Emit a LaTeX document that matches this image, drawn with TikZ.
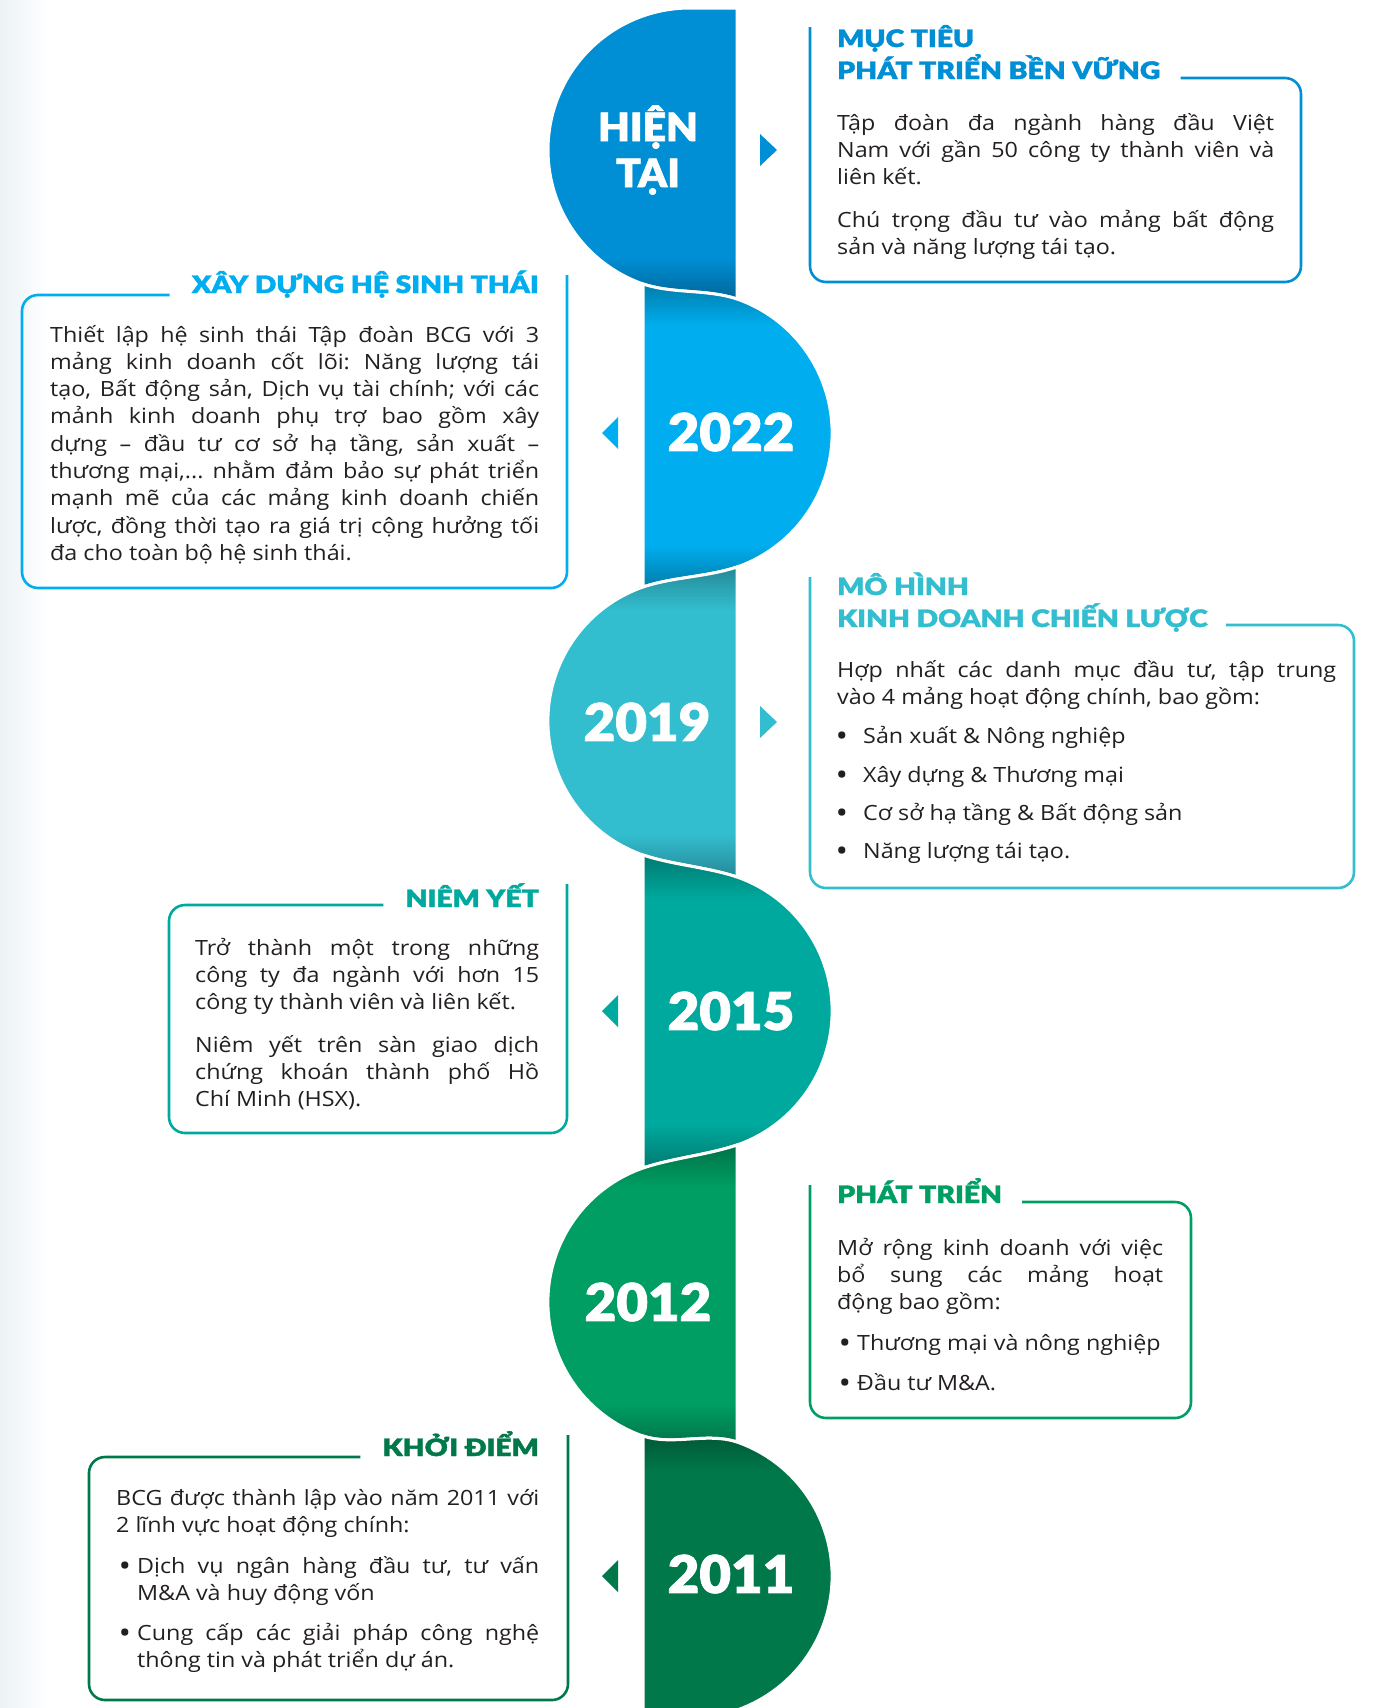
\documentclass[tikz,border=0pt]{standalone}
\usepackage{fontspec}
\setmainfont{Open Sans}[FakeStretch=1.11]
\newfontfamily\tlheadfont{Lato Black}[FakeStretch=1.18, FakeBold=1.6]
\newfontfamily\tlyearfont{Lato Black}[FakeStretch=1.05, FakeBold=1.6]

\definecolor{bcgnow}{HTML}{008ED4}
\definecolor{bcgsky}{HTML}{00AEEF}
\definecolor{bcgcyan}{HTML}{33BED0}
\definecolor{bcgteal}{HTML}{00A99D}
\definecolor{bcggreen}{HTML}{009E63}
\definecolor{bcgforest}{HTML}{00784A}
\definecolor{ink}{HTML}{231F20}
\definecolor{edge}{HTML}{EDF2F6}
\colorlet{tlmain}{bcgnow}
\colorlet{tldark}{bcgnow!72!black}

% fades at the joints of the ribbon
\pgfdeclareverticalshading[tlmain,tldark]{tlfade}{100bp}{color(0bp)=(tldark); color(25bp)=(tldark); color(32bp)=(tlmain); color(68bp)=(tlmain); color(75bp)=(tldark); color(100bp)=(tldark)}
\pgfdeclareverticalshading[tlmain,tldark]{tlfadelow}{100bp}{color(0bp)=(tldark); color(25bp)=(tldark); color(32bp)=(tlmain); color(100bp)=(tlmain)}
\pgfdeclareverticalshading[tlmain,tldark]{tlfadehigh}{100bp}{color(0bp)=(tlmain); color(68bp)=(tlmain); color(75bp)=(tldark); color(100bp)=(tldark)}

\newcommand{\tlbody}{\fontsize{21}{27.3}\selectfont\frenchspacing\tolerance=9999 \hyphenpenalty=10000 \exhyphenpenalty=10000 }
\newcommand{\tldot}[1]{\llap{\raisebox{-3.5pt}{\fontsize{30}{30}\selectfont\textbullet}\hspace{#1}}}

\tikzset{
 tone/.code={\colorlet{tlmain}{#1}\colorlet{tldark}{#1!72!black}},
 band/.style={shade, shading=tlfade, draw=white, line width=3pt},
 frame/.style={draw=#1, line width=2.6pt, rounded corners=16pt},
 headtext/.style={font=\tlheadfont\fontsize{24}{32}\selectfont, text=#1, inner sep=0pt, align=left},
 bodytext/.style={font=\tlbody, text=ink, inner sep=0pt, text width=#1pt, align=justify, anchor=base west},
 yearlabel/.style={font=\tlyearfont\fontsize{52}{46}\selectfont, text=white, inner sep=0pt, align=center}
}

\begin{document}
\begin{tikzpicture}[x=1pt, y=1pt]
\useasboundingbox (0,0) rectangle (1373,-1708);
\shade[left color=edge, right color=white] (0,0) rectangle (48,-1708);

% ribbon
\path[tone=bcgnow, band, shading=tlfadelow] (737,-8) -- (690,-8)
 arc[start angle=90, end angle=250.7, radius=142]
 .. controls (673,-294) and (707,-289) .. (737,-299) -- cycle;
\path[tone=bcgsky, band] (643,-284) .. controls (673,-294) and (707,-289) .. (737,-299)
 arc[start angle=70.7, end angle=-70.7, radius=142]
 .. controls (707,-577) and (673,-577) .. (643,-587) -- cycle;
\path[tone=bcgcyan, band] (737,-567) .. controls (707,-577) and (673,-577) .. (643,-587)
 arc[start angle=109.3, end angle=250.7, radius=142]
 .. controls (673,-865) and (707,-867) .. (737,-877) -- cycle;
\path[tone=bcgteal, band] (643,-855) .. controls (673,-865) and (707,-867) .. (737,-877)
 arc[start angle=70.7, end angle=-70.7, radius=142]
 .. controls (707,-1155) and (673,-1158) .. (643,-1168) -- cycle;
\path[tone=bcggreen, band] (737,-1145) .. controls (707,-1155) and (673,-1158) .. (643,-1168)
 arc[start angle=109.3, end angle=250.7, radius=142]
 .. controls (673,-1446) and (707,-1432) .. (737,-1442) -- cycle;
\path[tone=bcgforest, band, shading=tlfadehigh] (643,-1436) .. controls (673,-1446) and (707,-1432) .. (737,-1442)
 arc[start angle=70.7, end angle=-90, radius=142] -- (643,-1718) -- cycle;

\node[yearlabel, font=\tlyearfont\fontsize{39}{46}\selectfont] (now) at (648,-150) {HIỆN\\TẠI};
\node[yearlabel] (y2022) at (731,-432) {2022};
\node[yearlabel] (y2019) at (647,-722) {2019};
\node[yearlabel] (y2015) at (731,-1011) {2015};
\node[yearlabel] (y2012) at (648,-1302) {2012};
\node[yearlabel] (y2011) at (731,-1574) {2011};

% pointers
\fill[bcgnow] (760,-134) -- (777,-150) -- (760,-166) -- cycle;
\fill[bcgsky] (618,-417) -- (602,-433) -- (618,-449) -- cycle;
\fill[bcgcyan] (760,-706) -- (777,-722) -- (760,-738) -- cycle;
\fill[bcgteal] (618,-995) -- (602,-1011) -- (618,-1027) -- cycle;
\fill[bcgforest] (618,-1560) -- (602,-1576) -- (618,-1592) -- cycle;

% hien tai
\node[headtext=bcgnow, anchor=base west] (goal-title) at (837,-79) {MỤC TIÊU\\PHÁT TRIỂN BỀN VỮNG};
\coordinate (goal-cut) at ([xshift=20pt]goal-title.east);
\draw[frame=bcgnow] (goal-cut |- 0,-78) -- (1301,-78) -- (1301,-282) -- (810,-282) -- (810,-27);
\node[bodytext=437] (goal-text1) at (837,-130) {Tập đoàn đa ngành hàng đầu Việt\linebreak Nam với gần 50 công ty thành viên và\linebreak liên kết.};
\node[bodytext=437] (goal-text2) at (837,-227) {Chú trọng đầu tư vào mảng bất động\linebreak sản và năng lượng tái tạo.};

% 2022
\node[headtext=bcgsky, anchor=base east] (eco-title) at (539,-293) {XÂY DỰNG HỆ SINH THÁI};
\coordinate (eco-cut) at ([xshift=-22pt]eco-title.west);
\draw[frame=bcgsky] (eco-cut |- 0,-295) -- (22,-295) -- (22,-588) -- (567,-588) -- (567,-275);
\node[bodytext=489] (eco-text) at (50,-342) {Thiết lập hệ sinh thái Tập đoàn BCG với 3\linebreak mảng kinh doanh cốt lõi: Năng lượng tái\linebreak tạo, Bất động sản, Dịch vụ tài chính; với các\linebreak mảnh kinh doanh phụ trợ bao gồm xây\linebreak dựng – đầu tư cơ sở hạ tầng, sản xuất –\linebreak thương mại,... nhằm đảm bảo sự phát triển\linebreak mạnh mẽ của các mảng kinh doanh chiến\linebreak lược, đồng thời tạo ra giá trị cộng hưởng tối\linebreak đa cho toàn bộ hệ sinh thái.};

% 2019
\node[headtext=bcgcyan, anchor=base west] (model-title) at (837,-627) {MÔ HÌNH\\KINH DOANH CHIẾN LƯỢC};
\coordinate (model-cut) at ([xshift=18pt]model-title.east);
\draw[frame=bcgcyan] (model-cut |- 0,-625) -- (1354,-625) -- (1354,-888) -- (810,-888) -- (810,-577);
\node[bodytext=499] (model-text) at (837,-677) {Hợp nhất các danh mục đầu tư, tập trung\linebreak vào 4 mảng hoạt động chính, bao gồm:};
\node[bodytext=473] (model-item1) at (863,-743) {\tldot{15pt}Sản xuất \& Nông nghiệp};
\node[bodytext=473] (model-item2) at (863,-782) {\tldot{15pt}Xây dựng \& Thương mại};
\node[bodytext=473] (model-item3) at (863,-820) {\tldot{15pt}Cơ sở hạ tầng \& Bất động sản};
\node[bodytext=473] (model-item4) at (863,-858) {\tldot{15pt}Năng lượng tái tạo.};

% 2015
\node[headtext=bcgteal, anchor=base east] (listing-title) at (539,-907) {NIÊM YẾT};
\coordinate (listing-cut) at ([xshift=-22pt]listing-title.west);
\draw[frame=bcgteal] (listing-cut |- 0,-905) -- (169,-905) -- (169,-1133) -- (567,-1133) -- (567,-884);
\node[bodytext=344] (listing-text1) at (195,-955) {Trở thành một trong những\linebreak công ty đa ngành với hơn 15\linebreak công ty thành viên và liên kết.};
\node[bodytext=344] (listing-text2) at (195,-1052) {Niêm yết trên sàn giao dịch\linebreak chứng khoán thành phố Hồ\linebreak Chí Minh (HSX).};

% 2012
\node[headtext=bcggreen, anchor=base west] (growth-title) at (837,-1203) {PHÁT TRIỂN};
\coordinate (growth-cut) at ([xshift=20pt]growth-title.east);
\draw[frame=bcggreen] (growth-cut |- 0,-1202) -- (1191,-1202) -- (1191,-1418) -- (810,-1418) -- (810,-1185);
\node[bodytext=326] (growth-text) at (837,-1255) {Mở rộng kinh doanh với việc\linebreak bổ sung các mảng hoạt\linebreak động bao gồm:};
\node[bodytext=306] (growth-item1) at (857,-1350) {\tldot{6pt}Thương mại và nông nghiệp};
\node[bodytext=306] (growth-item2) at (857,-1390) {\tldot{6pt}Đầu tư M\&A.};

% 2011
\node[headtext=bcgforest, anchor=base east] (start-title) at (539,-1456) {KHỞI ĐIỂM};
\coordinate (start-cut) at ([xshift=-22pt]start-title.west);
\draw[frame=bcgforest] (start-cut |- 0,-1457) -- (89,-1457) -- (89,-1700) -- (568,-1700) -- (568,-1435);
\node[bodytext=423] (start-text) at (116,-1505) {BCG được thành lập vào năm 2011 với\linebreak 2 lĩnh vực hoạt động chính:};
\node[bodytext=402] (start-item1) at (137,-1573) {\tldot{6pt}Dịch vụ ngân hàng đầu tư, tư vấn\linebreak M\&A và huy động vốn};
\node[bodytext=402] (start-item2) at (137,-1640) {\tldot{6pt}Cung cấp các giải pháp công nghệ\linebreak thông tin và phát triển dự án.};
\end{tikzpicture}
\end{document}
